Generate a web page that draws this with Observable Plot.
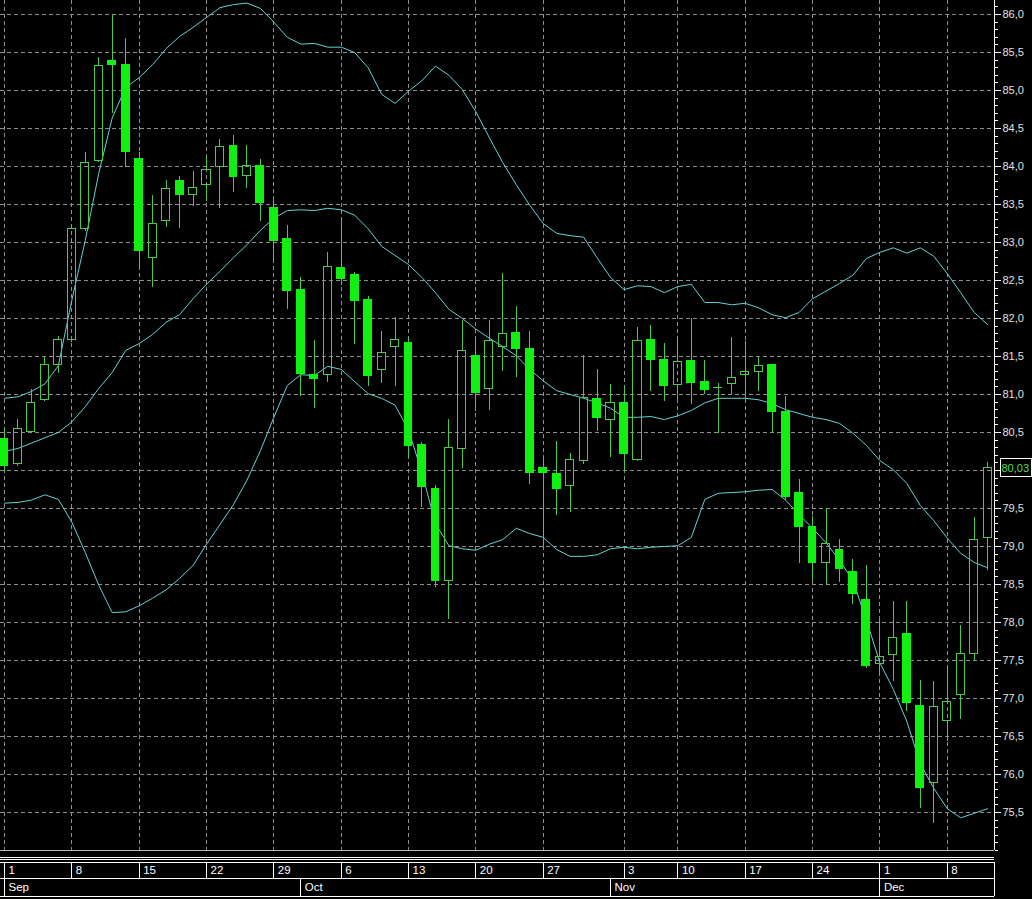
<!DOCTYPE html>
<html>
<head>
<meta charset="utf-8">
<script src="https://cdn.jsdelivr.net/npm/d3@7"></script>
<script src="https://cdn.jsdelivr.net/npm/@observablehq/plot@0.6"></script>
<style>
html, body { margin: 0; padding: 0; background: #000; }
#chart svg { display: block; }
</style>
</head>
<body>
<div id="chart"></div>
<script>
// Daily OHLC, one entry per trading day (index 0 = 1 Sep)
const open  = [80.42,80.09,80.51,80.93,81.39,81.72,83.18,84.07,85.39,85.34,84.11,82.80,83.28,83.82,83.62,83.76,83.99,84.28,83.88,84.01,83.46,83.05,82.38,81.26,81.25,82.67,82.58,82.25,81.32,81.63,81.68,80.34,79.76,78.54,80.28,81.51,81.07,81.62,81.82,81.61,80.04,79.96,79.80,80.12,80.95,80.66,80.89,80.14,81.72,81.46,81.13,81.45,81.17,81.08,81.14,81.25,81.29,81.39,80.78,79.71,79.26,78.78,78.96,78.67,78.30,77.45,77.57,77.86,76.91,75.89,76.71,77.05,77.59,79.11];
const high  = [80.57,80.67,81.07,81.49,81.76,83.20,84.18,85.43,85.99,85.68,84.18,83.62,83.82,83.87,83.93,84.12,84.36,84.41,84.28,84.09,83.55,83.22,82.54,81.71,82.87,83.32,82.60,82.29,81.83,82.01,81.75,80.37,79.80,80.67,81.97,81.74,81.97,82.59,82.16,81.83,80.17,80.38,80.22,81.51,81.33,81.13,81.11,81.88,81.91,81.67,81.74,82.00,81.45,81.14,81.75,81.70,81.49,81.40,80.97,79.88,79.39,79.50,79.09,78.83,78.75,78.04,78.28,78.28,77.24,77.22,77.39,77.96,79.38,80.11];
const low   = [79.96,80.05,80.49,80.91,81.28,81.68,83.15,84.05,84.70,83.99,82.67,82.41,83.20,83.18,83.47,83.54,83.45,83.66,83.71,83.28,82.76,82.12,80.97,80.82,81.16,82.43,81.66,81.11,81.14,81.11,80.14,79.51,78.46,78.04,80.03,80.78,80.79,81.30,81.22,79.82,78.97,79.41,79.45,80.08,80.51,80.17,79.99,80.12,81.04,80.91,80.93,80.87,81.00,80.49,81.00,80.95,81.04,80.49,79.60,78.78,78.54,78.50,78.53,78.24,77.39,77.33,77.22,76.83,75.55,75.36,76.43,76.72,77.50,78.68];
const close = [80.05,80.55,80.89,81.39,81.72,83.18,84.05,85.32,85.33,84.18,82.88,83.24,83.71,83.62,83.72,83.96,84.26,83.86,84.00,83.51,83.01,82.36,81.26,81.20,82.68,82.51,82.22,81.24,81.55,81.72,80.32,79.78,78.54,80.29,81.57,81.01,81.70,81.80,81.59,79.96,79.96,79.75,80.14,80.95,80.68,80.89,80.21,81.70,81.45,81.11,81.43,81.14,81.05,81.09,81.22,81.29,81.37,80.76,79.64,79.25,78.78,79.03,78.70,78.37,77.42,77.54,77.79,76.93,75.82,76.89,76.96,77.59,79.09,80.03];

// Bollinger bands
const upperBand  = [80.95,80.97,81.04,81.14,81.38,82.24,83.03,83.91,84.64,85.04,85.17,85.34,85.55,85.71,85.83,85.96,86.09,86.13,86.15,86.08,85.90,85.70,85.61,85.62,85.57,85.57,85.50,85.30,84.95,84.83,84.99,85.13,85.32,85.20,85.01,84.72,84.38,84.05,83.76,83.49,83.25,83.12,83.09,83.07,82.80,82.54,82.38,82.43,82.42,82.34,82.42,82.45,82.21,82.21,82.18,82.20,82.14,82.05,82.01,82.08,82.26,82.36,82.46,82.57,82.79,82.87,82.93,82.86,82.93,82.82,82.59,82.34,82.08,81.92];
const middleBand = [80.25,80.29,80.36,80.43,80.50,80.64,80.84,81.08,81.29,81.58,81.67,81.79,81.95,82.05,82.26,82.45,82.62,82.80,82.97,83.16,83.32,83.42,83.43,83.42,83.45,83.43,83.36,83.18,82.95,82.83,82.71,82.54,82.34,82.12,82.00,81.86,81.74,81.63,81.51,81.33,81.18,81.05,81.00,80.95,80.89,80.82,80.70,80.70,80.71,80.67,80.72,80.79,80.89,80.95,80.95,80.95,80.93,80.88,80.80,80.75,80.70,80.67,80.62,80.49,80.33,80.13,80.01,79.83,79.54,79.34,79.11,78.91,78.79,78.72];
const lowerBand  = [79.57,79.58,79.61,79.68,79.62,79.32,78.92,78.49,78.13,78.14,78.22,78.32,78.43,78.58,78.75,79.03,79.29,79.55,79.87,80.26,80.70,81.12,81.26,81.25,81.37,81.33,81.17,81.01,80.95,80.86,80.53,79.97,79.30,79.01,78.97,78.95,79.03,79.09,79.24,79.17,79.12,78.96,78.87,78.87,78.89,78.97,78.99,78.97,78.99,79.00,79.01,79.12,79.62,79.70,79.71,79.72,79.74,79.75,79.61,79.42,79.24,79.05,78.82,78.55,78.03,77.47,77.12,76.70,76.14,75.82,75.55,75.43,75.49,75.55];

// Axis ticks
const weekTicks   = [0,5,10,15,20,25,30,35,40,46,50,55,60,65,70];
const weekLabels  = ["1","8","15","22","29","6","13","20","27","3","10","17","24","1","8"];
const monthTicks  = [0,22,45,65];
const monthLabels = ["Sep","Oct","Nov","Dec"];
const priceTicks  = [75.5,76,76.5,77,77.5,78,78.5,79,79.5,80,80.5,81,81.5,82,82.5,83,83.5,84,84.5,85,85.5,86];
const minorTicks  = d3.range(750, 862).map(d => d / 10);

const candles = open.map((o, i) => ({
  i, open: o, high: high[i], low: low[i], close: close[i],
  up: close[i] >= o,
  top: Math.max(o, close[i]), bottom: Math.min(o, close[i])
}));
const bands = upperBand.map((u, i) => ({i, upper: u, middle: middleBand[i], lower: lowerBand[i]}));
const lastClose = close[close.length - 1];
// price labels hidden behind the last-price box are not drawn
const labelTicks = priceTicks.filter(v => Math.abs(v - lastClose) > 0.2);

const weekLabelOf = new Map(weekTicks.map((t, k) => [t, weekLabels[k]]));
const monthLabelOf = new Map(monthTicks.map((t, k) => [t, monthLabels[k]]));
const fmt = d => d.toFixed(1).replace(".", ",");

const gridColor = "#8e8e8e";
const bandColor = "#66d2d2";
const wickColor = "#4cc84c";
const bodyColor = "#11f011";
const xEnd = 73.51;
const yBottom = 75.0;

const chart = Plot.plot({
  width: 1032,
  height: 899,
  marginTop: 0,
  marginRight: 38,
  marginBottom: 49,
  marginLeft: 0,
  style: {background: "#000", color: "#e2e2e2", fontFamily: "'Liberation Sans', Arial, sans-serif", fontSize: "11px"},
  x: {type: "linear", domain: [-0.297, xEnd]},
  y: {type: "linear", domain: [yBottom, 86.184]},
  marks: [
    Plot.gridY(priceTicks, {stroke: gridColor, strokeOpacity: 1, strokeDasharray: "4,3", shapeRendering: "crispEdges"}),
    Plot.gridX(weekTicks, {stroke: gridColor, strokeOpacity: 1, strokeDasharray: "4,3", shapeRendering: "crispEdges"}),
    Plot.line(bands, {x: "i", y: "upper", stroke: bandColor, strokeWidth: 1}),
    Plot.line(bands, {x: "i", y: "middle", stroke: bandColor, strokeWidth: 1}),
    Plot.line(bands, {x: "i", y: "lower", stroke: bandColor, strokeWidth: 1}),
    Plot.ruleX(candles, {x: "i", y1: "top", y2: "high", stroke: wickColor, shapeRendering: "crispEdges"}),
    Plot.ruleX(candles, {x: "i", y1: "low", y2: "bottom", stroke: wickColor, shapeRendering: "crispEdges"}),
    Plot.rect(candles.filter(d => !d.up), {x1: d => d.i - 0.33, x2: d => d.i + 0.33, y1: "open", y2: "close", fill: bodyColor, shapeRendering: "crispEdges"}),
    Plot.rect(candles.filter(d => d.up), {x1: d => d.i - 0.3, x2: d => d.i + 0.3, y1: "bottom", y2: "top", fill: "none", stroke: wickColor, strokeWidth: 1, shapeRendering: "crispEdges"}),
    // frame lines
    Plot.ruleX([xEnd], {stroke: "#fff", shapeRendering: "crispEdges"}),
    Plot.ruleY([yBottom], {stroke: "#bbb", shapeRendering: "crispEdges"}),
    Plot.ruleY([yBottom], {dy: 7, stroke: "#fff", shapeRendering: "crispEdges"}),
    Plot.ruleY([yBottom], {dy: 9, stroke: "#fff", shapeRendering: "crispEdges"}),
    Plot.ruleY([yBottom], {dy: 12, stroke: "#fff", shapeRendering: "crispEdges"}),
    Plot.ruleY([yBottom], {dy: 28, stroke: "#fff", shapeRendering: "crispEdges"}),
    Plot.ruleY([yBottom], {dy: 46, stroke: "#fff", shapeRendering: "crispEdges"}),
    // right price axis
    Plot.axisY(minorTicks, {anchor: "right", tickSize: 3, fill: "none", stroke: "#fff", label: null, shapeRendering: "crispEdges"}),
    Plot.axisY(priceTicks, {anchor: "right", tickSize: 6, fill: "none", stroke: "#fff", label: null, shapeRendering: "crispEdges"}),
    Plot.axisY(labelTicks, {anchor: "right", tickSize: 6, tickPadding: 2, tickFormat: fmt, stroke: "none", fill: "#e2e2e2", label: null, fontSize: 11}),
    // last price box
    Plot.rect([lastClose], {y1: d => d, y2: d => d, insetTop: -9, insetBottom: -9, insetLeft: 1000, insetRight: -37, fill: "#000", stroke: "#fff", shapeRendering: "crispEdges"}),
    Plot.text([lastClose], {y: d => d, frameAnchor: "right", dx: 7, textAnchor: "start", text: d => d.toFixed(2).replace(".", ","), fill: "#55dd55", fontSize: 11}),
    // bottom date rows
    Plot.axisX(weekTicks, {anchor: "bottom", tickSize: 16, dy: 12, fill: "none", stroke: "#fff", label: null, shapeRendering: "crispEdges"}),
    Plot.axisX(monthTicks, {anchor: "bottom", tickSize: 18, dy: 28, fill: "none", stroke: "#fff", label: null, shapeRendering: "crispEdges"}),
    Plot.axisX([xEnd], {anchor: "bottom", tickSize: 34, dy: 12, fill: "none", stroke: "#fff", label: null, shapeRendering: "crispEdges"}),
    Plot.axisX(weekTicks, {anchor: "bottom", tickSize: 0, tickPadding: 0, dy: 20, dx: 4, textAnchor: "start", lineAnchor: "middle", tickFormat: d => weekLabelOf.get(d), fill: "#fff", label: null, fontSize: 11.5}),
    Plot.axisX(monthTicks, {anchor: "bottom", tickSize: 0, tickPadding: 0, dy: 37, dx: 4, textAnchor: "start", lineAnchor: "middle", tickFormat: d => monthLabelOf.get(d), fill: "#fff", label: null, fontSize: 11.5})
  ]
});
document.getElementById("chart").appendChild(chart);
</script>
</body>
</html>
